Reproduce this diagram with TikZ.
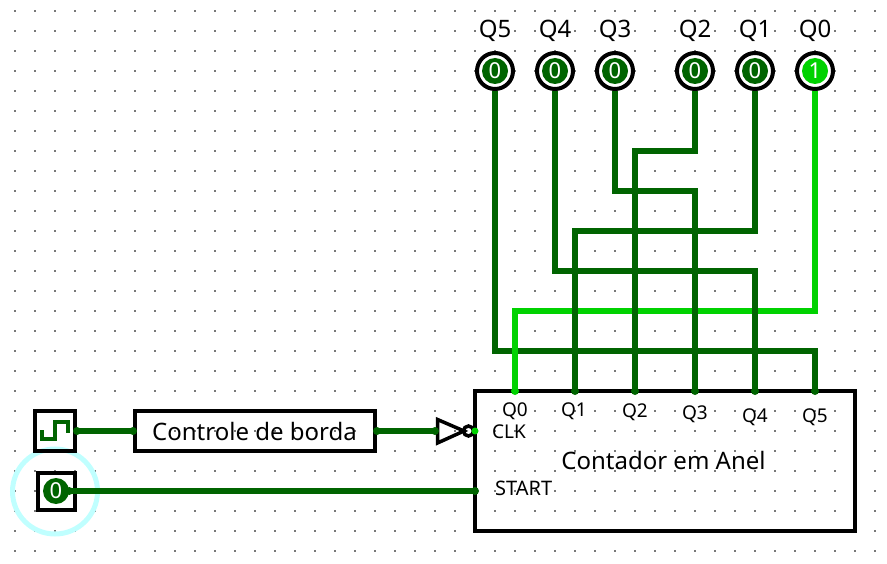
\documentclass[tikz,border=0pt]{standalone}
\usepackage{fontspec}
\setmainfont{Noto Sans}
\definecolor{fio0}{RGB}{0,100,0}
\definecolor{fio1}{RGB}{0,210,0}
\definecolor{ponto}{RGB}{120,120,120}
\definecolor{halo}{RGB}{192,255,255}
\tikzset{
  fio/.style={line width=6pt,fio0},
  fioalto/.style={line width=6pt,fio1},
  caixa/.style={draw=black,line width=4pt,inner sep=0pt,minimum height=40pt},
  led/.style={circle,draw=black,line width=4pt,fill=white,inner sep=0pt,minimum size=36pt},
  valor/.style={circle,fill=fio0,text=white,inner sep=0pt,minimum size=26pt,font=\fontsize{22}{22}\selectfont},
  rotulo/.style={font=\fontsize{24}{24}\selectfont,inner sep=0pt},
  pino/.style={font=\fontsize{19}{19}\selectfont,inner sep=0pt},
}
\begin{document}
\begin{tikzpicture}[x=1pt,y=-1pt]
            \useasboundingbox (0,0) rectangle (887,564);
            % Grade de pontos
            \foreach \i in {0,...,43} {
              \foreach \j in {0,...,27} {
                \fill[ponto] (14+20*\i,10+20*\j) rectangle ++(2,2);
              }
            }
            \draw[halo,line width=5pt] (55,491.5) circle (42.5);
            % Caixas
            \node[caixa,minimum width=380pt,minimum height=140pt] (contador) at (665,461) {};
            \node[rotulo] (nomecontador) at (663.5,460) {Contador em Anel};
            \node[caixa,minimum width=240pt] (borda) at (255,431) {};
            \node[rotulo] (nomeborda) at (254.5,431) {Controle de borda};
            \node[caixa,minimum width=40pt] (clock) at (55,431) {};
            \node[caixa,minimum width=37pt,minimum height=37pt] (start) at (56,491.5) {};
            \node[valor] (vstart) at (56,491) {0};
            \draw[fio0,line width=4pt] (42,430) -- (42,439) -- (55,439) -- (55,422) -- (68,422) -- (68,433);
            % Inversor
            \coordinate (entinv) at (435,431);
            \draw[black,line width=3.5pt,line join=miter] (437.5,419.5) -- (464,431) -- (437.5,443) -- cycle;
            \node[circle,draw=black,line width=3.5pt,minimum size=10pt,inner sep=0pt] (bolha) at (468.5,431) {};
            % Pinos do contador
            \foreach \nome/\px in {0/515,1/575,2/635,3/695,4/755,5/815} {
              \coordinate (entQ\nome) at (\px,391);
            }
            \foreach \nome/\px/\py in {0/515/411,1/574/411,2/635/412,3/695/414,4/755/417,5/815/417} {
              \node[pino] (pinoQ\nome) at (\px,\py) {Q\nome};
            }
            \node[pino,anchor=west] (pinoclk) at (492,432) {CLK};
            \node[pino,anchor=west,font=\fontsize{20}{20}\selectfont] (pinostart) at (495,488) {START};
            \coordinate (entclk) at (475,431);
            \coordinate (entstart) at (475,491);
            % Saidas
            \foreach \nome/\px/\bit in {5/495/0,4/555/0,3/615/0,2/695/0,1/755/0,0/815/1} {
              \node[led] (ledQ\nome) at (\px,71) {};
              \node[rotulo] (nomeQ\nome) at (\px,31) {Q\nome};
            }
            \foreach \nome in {5,4,3,2,1} {
              \node[valor] (valQ\nome) at (ledQ\nome) {0};
            }
            \node[valor,fill=fio1] (valQ0) at (ledQ0) {1};
            % Dobras
            \coordinate (dobraQ5) at (495,351);
            \coordinate (dobraQ4) at (555,271);
            \coordinate (dobraQ3) at (615,191);
            \coordinate (dobraQ2) at (695,151);
            \coordinate (dobraQ1) at (755,231);
            \coordinate (dobraQ0) at (815,311);
            \draw[fio] (ledQ5.south) -- (dobraQ5) -| (entQ5);
            \draw[fioalto] (ledQ0.south) -- (dobraQ0) -| (entQ0);
            \draw[fio] (ledQ4.south) -- (dobraQ4) -| (entQ4);
            \draw[fio] (ledQ3.south) -- (dobraQ3) -| (entQ3);
            \draw[fio] (ledQ2.south) -- (dobraQ2) -| (entQ2);
            \draw[fio] (ledQ1.south) -- (dobraQ1) -| (entQ1);
            % Entradas
            \draw[fio] (clock.east) -- (borda.west);
            \draw[fio] (borda.east) -- (entinv);
            \draw[fio] (vstart.east) -- (entstart);
            \fill[fio1] (entclk) circle (3.5);
            \foreach \ponta in {entQ1,entQ2,entQ3,entQ4,entQ5,entstart,borda.west,borda.east,clock.east,entinv,vstart.east} {
              \fill[fio0] (\ponta) circle (4);
            }
            \fill[fio1] (entQ0) circle (4);
        \end{tikzpicture}
\end{document}
